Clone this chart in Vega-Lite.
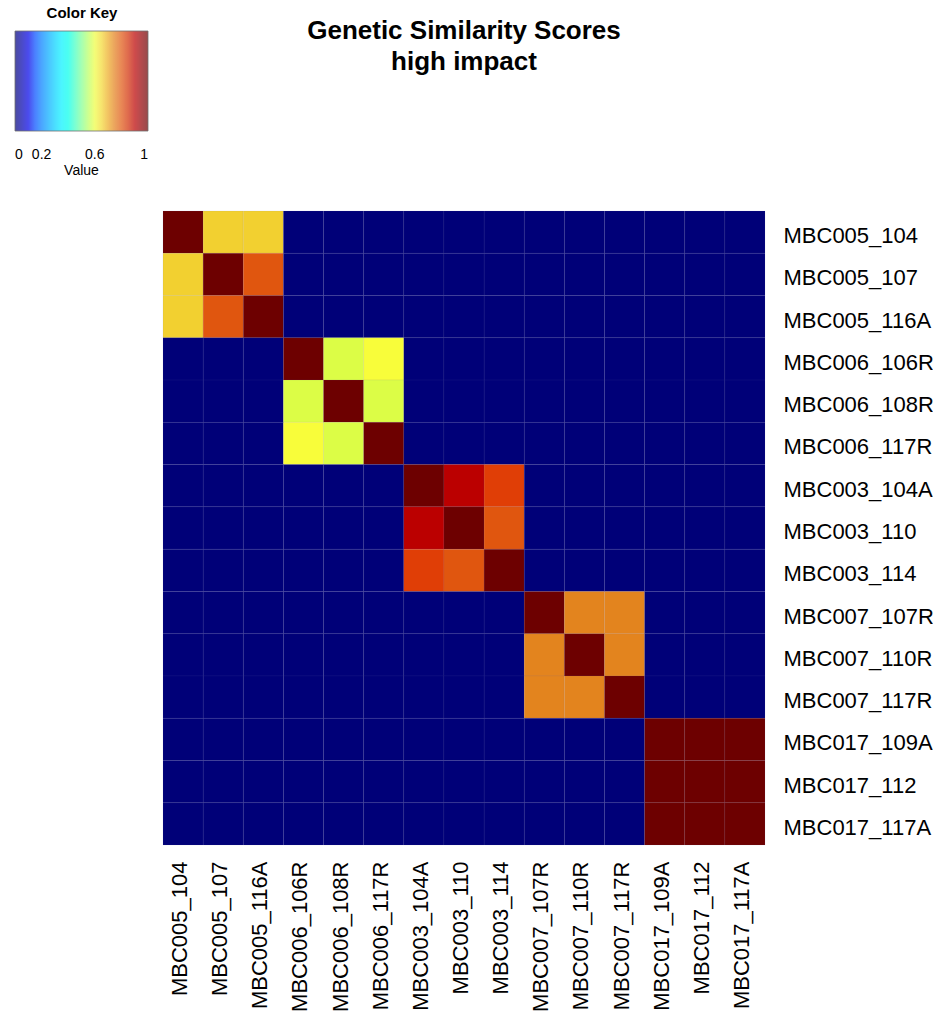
{
  "$schema": "https://vega.github.io/schema/vega-lite/v6.json",
  "padding": {"left": 15, "top": 6, "right": 5, "bottom": 2},
  "config": {"font": "Liberation Sans", "view": {"stroke": null}},
  "width": 602,
  "height": 634,
  "title": {"text": ["Genetic Similarity Scores", "high impact"], "frame": "group", "fontSize": 26, "fontWeight": "bold", "lineHeight": 31, "anchor": "middle", "offset": -69, "color": "#000"},
  "data": {
    "values": [
      {"r":"MBC005_104","c":"MBC005_104","v":1},{"r":"MBC005_104","c":"MBC005_107","v":0.66},{"r":"MBC005_104","c":"MBC005_116A","v":0.66},{"r":"MBC005_104","c":"MBC006_106R","v":0},{"r":"MBC005_104","c":"MBC006_108R","v":0},{"r":"MBC005_104","c":"MBC006_117R","v":0},{"r":"MBC005_104","c":"MBC003_104A","v":0},{"r":"MBC005_104","c":"MBC003_110","v":0},{"r":"MBC005_104","c":"MBC003_114","v":0},{"r":"MBC005_104","c":"MBC007_107R","v":0},{"r":"MBC005_104","c":"MBC007_110R","v":0},{"r":"MBC005_104","c":"MBC007_117R","v":0},{"r":"MBC005_104","c":"MBC017_109A","v":0},{"r":"MBC005_104","c":"MBC017_112","v":0},{"r":"MBC005_104","c":"MBC017_117A","v":0},
      {"r":"MBC005_107","c":"MBC005_104","v":0.66},{"r":"MBC005_107","c":"MBC005_107","v":1},{"r":"MBC005_107","c":"MBC005_116A","v":0.8},{"r":"MBC005_107","c":"MBC006_106R","v":0},{"r":"MBC005_107","c":"MBC006_108R","v":0},{"r":"MBC005_107","c":"MBC006_117R","v":0},{"r":"MBC005_107","c":"MBC003_104A","v":0},{"r":"MBC005_107","c":"MBC003_110","v":0},{"r":"MBC005_107","c":"MBC003_114","v":0},{"r":"MBC005_107","c":"MBC007_107R","v":0},{"r":"MBC005_107","c":"MBC007_110R","v":0},{"r":"MBC005_107","c":"MBC007_117R","v":0},{"r":"MBC005_107","c":"MBC017_109A","v":0},{"r":"MBC005_107","c":"MBC017_112","v":0},{"r":"MBC005_107","c":"MBC017_117A","v":0},
      {"r":"MBC005_116A","c":"MBC005_104","v":0.66},{"r":"MBC005_116A","c":"MBC005_107","v":0.8},{"r":"MBC005_116A","c":"MBC005_116A","v":1},{"r":"MBC005_116A","c":"MBC006_106R","v":0},{"r":"MBC005_116A","c":"MBC006_108R","v":0},{"r":"MBC005_116A","c":"MBC006_117R","v":0},{"r":"MBC005_116A","c":"MBC003_104A","v":0},{"r":"MBC005_116A","c":"MBC003_110","v":0},{"r":"MBC005_116A","c":"MBC003_114","v":0},{"r":"MBC005_116A","c":"MBC007_107R","v":0},{"r":"MBC005_116A","c":"MBC007_110R","v":0},{"r":"MBC005_116A","c":"MBC007_117R","v":0},{"r":"MBC005_116A","c":"MBC017_109A","v":0},{"r":"MBC005_116A","c":"MBC017_112","v":0},{"r":"MBC005_116A","c":"MBC017_117A","v":0},
      {"r":"MBC006_106R","c":"MBC005_104","v":0},{"r":"MBC006_106R","c":"MBC005_107","v":0},{"r":"MBC006_106R","c":"MBC005_116A","v":0},{"r":"MBC006_106R","c":"MBC006_106R","v":1},{"r":"MBC006_106R","c":"MBC006_108R","v":0.58},{"r":"MBC006_106R","c":"MBC006_117R","v":0.61},{"r":"MBC006_106R","c":"MBC003_104A","v":0},{"r":"MBC006_106R","c":"MBC003_110","v":0},{"r":"MBC006_106R","c":"MBC003_114","v":0},{"r":"MBC006_106R","c":"MBC007_107R","v":0},{"r":"MBC006_106R","c":"MBC007_110R","v":0},{"r":"MBC006_106R","c":"MBC007_117R","v":0},{"r":"MBC006_106R","c":"MBC017_109A","v":0},{"r":"MBC006_106R","c":"MBC017_112","v":0},{"r":"MBC006_106R","c":"MBC017_117A","v":0},
      {"r":"MBC006_108R","c":"MBC005_104","v":0},{"r":"MBC006_108R","c":"MBC005_107","v":0},{"r":"MBC006_108R","c":"MBC005_116A","v":0},{"r":"MBC006_108R","c":"MBC006_106R","v":0.58},{"r":"MBC006_108R","c":"MBC006_108R","v":1},{"r":"MBC006_108R","c":"MBC006_117R","v":0.58},{"r":"MBC006_108R","c":"MBC003_104A","v":0},{"r":"MBC006_108R","c":"MBC003_110","v":0},{"r":"MBC006_108R","c":"MBC003_114","v":0},{"r":"MBC006_108R","c":"MBC007_107R","v":0},{"r":"MBC006_108R","c":"MBC007_110R","v":0},{"r":"MBC006_108R","c":"MBC007_117R","v":0},{"r":"MBC006_108R","c":"MBC017_109A","v":0},{"r":"MBC006_108R","c":"MBC017_112","v":0},{"r":"MBC006_108R","c":"MBC017_117A","v":0},
      {"r":"MBC006_117R","c":"MBC005_104","v":0},{"r":"MBC006_117R","c":"MBC005_107","v":0},{"r":"MBC006_117R","c":"MBC005_116A","v":0},{"r":"MBC006_117R","c":"MBC006_106R","v":0.61},{"r":"MBC006_117R","c":"MBC006_108R","v":0.58},{"r":"MBC006_117R","c":"MBC006_117R","v":1},{"r":"MBC006_117R","c":"MBC003_104A","v":0},{"r":"MBC006_117R","c":"MBC003_110","v":0},{"r":"MBC006_117R","c":"MBC003_114","v":0},{"r":"MBC006_117R","c":"MBC007_107R","v":0},{"r":"MBC006_117R","c":"MBC007_110R","v":0},{"r":"MBC006_117R","c":"MBC007_117R","v":0},{"r":"MBC006_117R","c":"MBC017_109A","v":0},{"r":"MBC006_117R","c":"MBC017_112","v":0},{"r":"MBC006_117R","c":"MBC017_117A","v":0},
      {"r":"MBC003_104A","c":"MBC005_104","v":0},{"r":"MBC003_104A","c":"MBC005_107","v":0},{"r":"MBC003_104A","c":"MBC005_116A","v":0},{"r":"MBC003_104A","c":"MBC006_106R","v":0},{"r":"MBC003_104A","c":"MBC006_108R","v":0},{"r":"MBC003_104A","c":"MBC006_117R","v":0},{"r":"MBC003_104A","c":"MBC003_104A","v":1},{"r":"MBC003_104A","c":"MBC003_110","v":0.9},{"r":"MBC003_104A","c":"MBC003_114","v":0.82},{"r":"MBC003_104A","c":"MBC007_107R","v":0},{"r":"MBC003_104A","c":"MBC007_110R","v":0},{"r":"MBC003_104A","c":"MBC007_117R","v":0},{"r":"MBC003_104A","c":"MBC017_109A","v":0},{"r":"MBC003_104A","c":"MBC017_112","v":0},{"r":"MBC003_104A","c":"MBC017_117A","v":0},
      {"r":"MBC003_110","c":"MBC005_104","v":0},{"r":"MBC003_110","c":"MBC005_107","v":0},{"r":"MBC003_110","c":"MBC005_116A","v":0},{"r":"MBC003_110","c":"MBC006_106R","v":0},{"r":"MBC003_110","c":"MBC006_108R","v":0},{"r":"MBC003_110","c":"MBC006_117R","v":0},{"r":"MBC003_110","c":"MBC003_104A","v":0.9},{"r":"MBC003_110","c":"MBC003_110","v":1},{"r":"MBC003_110","c":"MBC003_114","v":0.8},{"r":"MBC003_110","c":"MBC007_107R","v":0},{"r":"MBC003_110","c":"MBC007_110R","v":0},{"r":"MBC003_110","c":"MBC007_117R","v":0},{"r":"MBC003_110","c":"MBC017_109A","v":0},{"r":"MBC003_110","c":"MBC017_112","v":0},{"r":"MBC003_110","c":"MBC017_117A","v":0},
      {"r":"MBC003_114","c":"MBC005_104","v":0},{"r":"MBC003_114","c":"MBC005_107","v":0},{"r":"MBC003_114","c":"MBC005_116A","v":0},{"r":"MBC003_114","c":"MBC006_106R","v":0},{"r":"MBC003_114","c":"MBC006_108R","v":0},{"r":"MBC003_114","c":"MBC006_117R","v":0},{"r":"MBC003_114","c":"MBC003_104A","v":0.82},{"r":"MBC003_114","c":"MBC003_110","v":0.8},{"r":"MBC003_114","c":"MBC003_114","v":1},{"r":"MBC003_114","c":"MBC007_107R","v":0},{"r":"MBC003_114","c":"MBC007_110R","v":0},{"r":"MBC003_114","c":"MBC007_117R","v":0},{"r":"MBC003_114","c":"MBC017_109A","v":0},{"r":"MBC003_114","c":"MBC017_112","v":0},{"r":"MBC003_114","c":"MBC017_117A","v":0},
      {"r":"MBC007_107R","c":"MBC005_104","v":0},{"r":"MBC007_107R","c":"MBC005_107","v":0},{"r":"MBC007_107R","c":"MBC005_116A","v":0},{"r":"MBC007_107R","c":"MBC006_106R","v":0},{"r":"MBC007_107R","c":"MBC006_108R","v":0},{"r":"MBC007_107R","c":"MBC006_117R","v":0},{"r":"MBC007_107R","c":"MBC003_104A","v":0},{"r":"MBC007_107R","c":"MBC003_110","v":0},{"r":"MBC007_107R","c":"MBC003_114","v":0},{"r":"MBC007_107R","c":"MBC007_107R","v":1},{"r":"MBC007_107R","c":"MBC007_110R","v":0.74},{"r":"MBC007_107R","c":"MBC007_117R","v":0.74},{"r":"MBC007_107R","c":"MBC017_109A","v":0},{"r":"MBC007_107R","c":"MBC017_112","v":0},{"r":"MBC007_107R","c":"MBC017_117A","v":0},
      {"r":"MBC007_110R","c":"MBC005_104","v":0},{"r":"MBC007_110R","c":"MBC005_107","v":0},{"r":"MBC007_110R","c":"MBC005_116A","v":0},{"r":"MBC007_110R","c":"MBC006_106R","v":0},{"r":"MBC007_110R","c":"MBC006_108R","v":0},{"r":"MBC007_110R","c":"MBC006_117R","v":0},{"r":"MBC007_110R","c":"MBC003_104A","v":0},{"r":"MBC007_110R","c":"MBC003_110","v":0},{"r":"MBC007_110R","c":"MBC003_114","v":0},{"r":"MBC007_110R","c":"MBC007_107R","v":0.74},{"r":"MBC007_110R","c":"MBC007_110R","v":1},{"r":"MBC007_110R","c":"MBC007_117R","v":0.74},{"r":"MBC007_110R","c":"MBC017_109A","v":0},{"r":"MBC007_110R","c":"MBC017_112","v":0},{"r":"MBC007_110R","c":"MBC017_117A","v":0},
      {"r":"MBC007_117R","c":"MBC005_104","v":0},{"r":"MBC007_117R","c":"MBC005_107","v":0},{"r":"MBC007_117R","c":"MBC005_116A","v":0},{"r":"MBC007_117R","c":"MBC006_106R","v":0},{"r":"MBC007_117R","c":"MBC006_108R","v":0},{"r":"MBC007_117R","c":"MBC006_117R","v":0},{"r":"MBC007_117R","c":"MBC003_104A","v":0},{"r":"MBC007_117R","c":"MBC003_110","v":0},{"r":"MBC007_117R","c":"MBC003_114","v":0},{"r":"MBC007_117R","c":"MBC007_107R","v":0.74},{"r":"MBC007_117R","c":"MBC007_110R","v":0.74},{"r":"MBC007_117R","c":"MBC007_117R","v":1},{"r":"MBC007_117R","c":"MBC017_109A","v":0},{"r":"MBC007_117R","c":"MBC017_112","v":0},{"r":"MBC007_117R","c":"MBC017_117A","v":0},
      {"r":"MBC017_109A","c":"MBC005_104","v":0},{"r":"MBC017_109A","c":"MBC005_107","v":0},{"r":"MBC017_109A","c":"MBC005_116A","v":0},{"r":"MBC017_109A","c":"MBC006_106R","v":0},{"r":"MBC017_109A","c":"MBC006_108R","v":0},{"r":"MBC017_109A","c":"MBC006_117R","v":0},{"r":"MBC017_109A","c":"MBC003_104A","v":0},{"r":"MBC017_109A","c":"MBC003_110","v":0},{"r":"MBC017_109A","c":"MBC003_114","v":0},{"r":"MBC017_109A","c":"MBC007_107R","v":0},{"r":"MBC017_109A","c":"MBC007_110R","v":0},{"r":"MBC017_109A","c":"MBC007_117R","v":0},{"r":"MBC017_109A","c":"MBC017_109A","v":1},{"r":"MBC017_109A","c":"MBC017_112","v":1},{"r":"MBC017_109A","c":"MBC017_117A","v":1},
      {"r":"MBC017_112","c":"MBC005_104","v":0},{"r":"MBC017_112","c":"MBC005_107","v":0},{"r":"MBC017_112","c":"MBC005_116A","v":0},{"r":"MBC017_112","c":"MBC006_106R","v":0},{"r":"MBC017_112","c":"MBC006_108R","v":0},{"r":"MBC017_112","c":"MBC006_117R","v":0},{"r":"MBC017_112","c":"MBC003_104A","v":0},{"r":"MBC017_112","c":"MBC003_110","v":0},{"r":"MBC017_112","c":"MBC003_114","v":0},{"r":"MBC017_112","c":"MBC007_107R","v":0},{"r":"MBC017_112","c":"MBC007_110R","v":0},{"r":"MBC017_112","c":"MBC007_117R","v":0},{"r":"MBC017_112","c":"MBC017_109A","v":1},{"r":"MBC017_112","c":"MBC017_112","v":1},{"r":"MBC017_112","c":"MBC017_117A","v":1},
      {"r":"MBC017_117A","c":"MBC005_104","v":0},{"r":"MBC017_117A","c":"MBC005_107","v":0},{"r":"MBC017_117A","c":"MBC005_116A","v":0},{"r":"MBC017_117A","c":"MBC006_106R","v":0},{"r":"MBC017_117A","c":"MBC006_108R","v":0},{"r":"MBC017_117A","c":"MBC006_117R","v":0},{"r":"MBC017_117A","c":"MBC003_104A","v":0},{"r":"MBC017_117A","c":"MBC003_110","v":0},{"r":"MBC017_117A","c":"MBC003_114","v":0},{"r":"MBC017_117A","c":"MBC007_107R","v":0},{"r":"MBC017_117A","c":"MBC007_110R","v":0},{"r":"MBC017_117A","c":"MBC007_117R","v":0},{"r":"MBC017_117A","c":"MBC017_109A","v":1},{"r":"MBC017_117A","c":"MBC017_112","v":1},{"r":"MBC017_117A","c":"MBC017_117A","v":1}
    ]
  },
  "mark": {"type": "rect", "stroke": "#6a6ab0", "strokeWidth": 0.6, "strokeOpacity": 0.15},
  "encoding": {
    "x": {
      "field": "c", "type": "nominal",
      "sort": ["MBC005_104","MBC005_107","MBC005_116A","MBC006_106R","MBC006_108R","MBC006_117R","MBC003_104A","MBC003_110","MBC003_114","MBC007_107R","MBC007_110R","MBC007_117R","MBC017_109A","MBC017_112","MBC017_117A"],
      "scale": {"paddingInner": 0, "paddingOuter": 0},
      "axis": {"orient": "bottom", "title": null, "labelAngle": -90, "labelFontSize": 22, "labelColor": "#000", "ticks": false, "domain": false, "labelPadding": 16, "labelOffset": -3}
    },
    "y": {
      "field": "r", "type": "nominal",
      "sort": ["MBC005_104","MBC005_107","MBC005_116A","MBC006_106R","MBC006_108R","MBC006_117R","MBC003_104A","MBC003_110","MBC003_114","MBC007_107R","MBC007_110R","MBC007_117R","MBC017_109A","MBC017_112","MBC017_117A"],
      "scale": {"paddingInner": 0, "paddingOuter": 0},
      "axis": {"orient": "right", "title": null, "labelFontSize": 22, "labelColor": "#000", "ticks": false, "domain": false, "labelPadding": 18, "labelOffset": 4}
    },
    "color": {
      "field": "v", "type": "quantitative",
      "scale": {
        "domain": [0, 0.12, 0.37, 0.58, 0.61, 0.66, 0.74, 0.8, 0.82, 0.9, 1],
        "range": ["#000078", "#0000ff", "#00ffff", "#dcfd46", "#f8fd3a", "#f2d030", "#e3841e", "#e0560f", "#e03e06", "#bb0000", "#6d0000"]
      },
      "legend": {
        "orient": "none", "legendX": -148, "legendY": -205, "direction": "horizontal",
        "gradientLength": 133, "gradientThickness": 100, "gradientOpacity": 0.7,
        "gradientStrokeColor": "#333", "gradientStrokeWidth": 0.8,
        "title": "Color Key", "titleFontSize": 15, "titleFontWeight": "bold", "titleAnchor": "middle", "titlePadding": 10, "titleColor": "#000",
        "values": [0, 0.2, 0.4, 0.5, 0.6, 0.8, 1],
        "format": ".1~f",
        "labelExpr": "datum.value == 0.5 ? ['', 'Value'] : (datum.value == 0.4 || datum.value == 0.8) ? '' : datum.label",
        "labelAlign": "center", "labelFontSize": 14, "labelOffset": 17, "labelColor": "#000", "labelOverlap": false
      }
    }
  }
}
